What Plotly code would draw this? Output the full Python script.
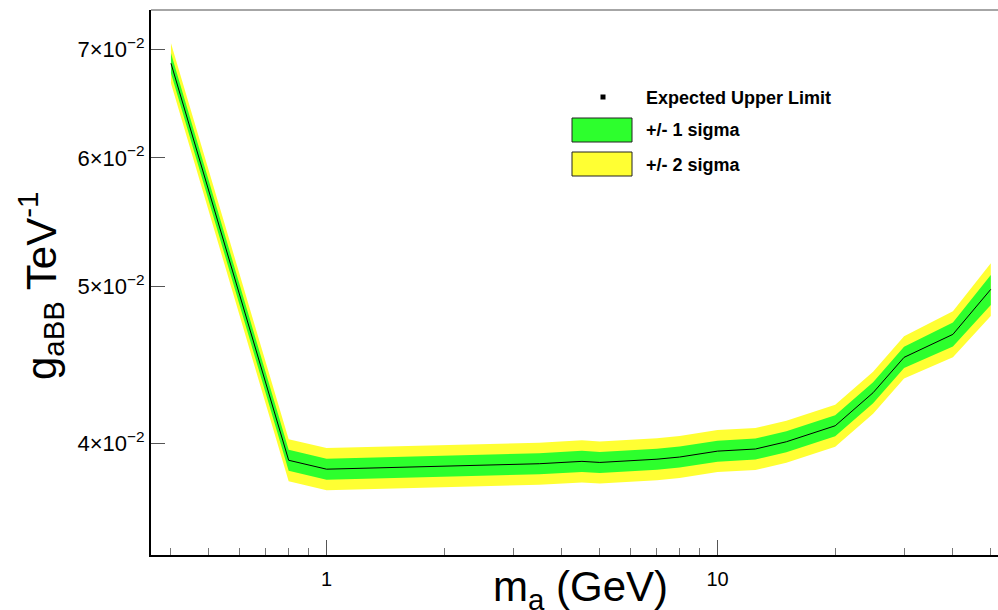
import plotly.graph_objects as go

# ---- data ----
mass = [0.4, 0.8, 1.0, 2.0, 3.5, 4.5, 5.0, 7.0, 8.0, 10.0, 12.5, 15.0, 20.0, 25.0, 30.0, 40.0, 50.0]
expected = [0.06861, 0.03907, 0.03858, 0.03874, 0.03888, 0.03901, 0.03895, 0.03913, 0.03925,
            0.03958, 0.03970, 0.04011, 0.04103, 0.04300, 0.04521, 0.04671, 0.04979]
sig1_up = [0.06959, 0.03966, 0.03916, 0.03932, 0.03946, 0.03960, 0.03953, 0.03972, 0.03984,
           0.04017, 0.04030, 0.04071, 0.04165, 0.04365, 0.04589, 0.04751, 0.05081]
sig1_lo = [0.06764, 0.03849, 0.03801, 0.03817, 0.03830, 0.03843, 0.03837, 0.03855, 0.03867,
           0.03899, 0.03911, 0.03952, 0.04042, 0.04236, 0.04454, 0.04592, 0.04869]
sig2_up = [0.07058, 0.04025, 0.03975, 0.03991, 0.04006, 0.04019, 0.04013, 0.04031, 0.04044,
           0.04078, 0.04090, 0.04132, 0.04227, 0.04430, 0.04658, 0.04826, 0.05166]
sig2_lo = [0.06669, 0.03792, 0.03745, 0.03760, 0.03774, 0.03786, 0.03781, 0.03798, 0.03810,
           0.03842, 0.03853, 0.03893, 0.03983, 0.04174, 0.04388, 0.04521, 0.04794]

y_tickvals = [0.04, 0.05, 0.06, 0.07]
y_ticktext = ["4×10<sup>−2</sup>", "5×10<sup>−2</sup>", "6×10<sup>−2</sup>", "7×10<sup>−2</sup>"]
x_tickvals = [1, 10]
x_ticktext = ["1", "10"]
x_minor = [0.4, 0.5, 0.6, 0.7, 0.8, 0.9, 2, 3, 4, 5, 6, 7, 8, 9, 20, 30, 40, 50]

legend_labels = ["Expected Upper Limit", "+/- 1 sigma", "+/- 2 sigma"]

GREEN = "#2dff2d"
YELLOW = "#ffff33"
FONT = "Liberation Sans, Arial, Helvetica, sans-serif"

W, H = 998, 610
L, R, T, B = 151, 0, 10, 55
PW, PH = W - L - R, H - T - B


def px(x):
    return (x - L) / PW


def py(y):
    return (H - B - y) / PH


fig = go.Figure()
fig.add_trace(go.Scatter(x=mass + mass[::-1], y=sig2_up + sig2_lo[::-1], fill="toself",
                         fillcolor=YELLOW, line=dict(width=0), mode="lines",
                         hoverinfo="skip", showlegend=False))
fig.add_trace(go.Scatter(x=mass + mass[::-1], y=sig1_up + sig1_lo[::-1], fill="toself",
                         fillcolor=GREEN, line=dict(width=0), mode="lines",
                         hoverinfo="skip", showlegend=False))
fig.add_trace(go.Scatter(x=mass, y=expected, mode="lines",
                         line=dict(color="black", width=1), showlegend=False))

fig.update_layout(
    width=W, height=H,
    margin=dict(l=L, r=R, t=T, b=B),
    paper_bgcolor="white", plot_bgcolor="white",
    font=dict(family=FONT, color="black"),
    showlegend=False,
    xaxis=dict(type="log", range=[-0.449, 1.7174], showgrid=False, zeroline=False,
               showline=True, linecolor="black", linewidth=2,
               tickmode="array", tickvals=x_tickvals, ticktext=x_ticktext,
               ticks="inside", ticklen=15, tickwidth=1, tickcolor="#555",
               tickfont=dict(size=20, family=FONT, color="black"),
               ticklabelstandoff=5,
               minor=dict(tickmode="array", tickvals=x_minor, ticks="inside",
                          ticklen=7, tickwidth=1, tickcolor="#777", showgrid=False)),
    yaxis=dict(type="log", range=[-1.4665, -1.1308], showgrid=False, zeroline=False,
               showline=True, linecolor="black", linewidth=2,
               tickmode="array", tickvals=y_tickvals, ticktext=y_ticktext,
               ticks="inside", ticklen=14, tickwidth=1, tickcolor="#555",
               tickfont=dict(size=22, family=FONT, color="black")),
)

shapes = [
    # top frame
    dict(type="line", xref="paper", yref="paper", x0=0, x1=1, y0=1, y1=1,
         line=dict(color="#888", width=1.5)),
    # legend marker
    dict(type="rect", xref="paper", yref="paper", x0=px(600.5), x1=px(605.5),
         y0=py(99.5), y1=py(94.5), fillcolor="black", line=dict(width=0)),
    dict(type="rect", xref="paper", yref="paper", x0=px(572), x1=px(632),
         y0=py(142), y1=py(118), fillcolor=GREEN, line=dict(color="#222", width=1)),
    dict(type="rect", xref="paper", yref="paper", x0=px(572), x1=px(632),
         y0=py(176), y1=py(152), fillcolor=YELLOW, line=dict(color="#222", width=1)),
]
fig.update_layout(shapes=shapes)

annotations = []
for lab, yy in zip(legend_labels, [97.5, 130, 164.5]):
    annotations.append(dict(text="<b>" + lab + "</b>", xref="paper", yref="paper",
                            x=px(644), y=py(yy), xanchor="left", yanchor="middle",
                            showarrow=False, font=dict(size=18, family=FONT, color="black")))
annotations.append(dict(text="m<sub>a</sub> (GeV)", xref="paper", yref="paper",
                        x=px(580), y=py(561), xanchor="center", yanchor="top",
                        showarrow=False, font=dict(size=42, family=FONT, color="black")))
annotations.append(dict(text="g<sub>aBB</sub> TeV<sup>-1</sup>", xref="paper", yref="paper",
                        x=px(40), y=py(286), xanchor="center", yanchor="middle",
                        textangle=-90, showarrow=False,
                        font=dict(size=42, family=FONT, color="black")))
fig.update_layout(annotations=annotations)

fig.write_html("out.html")
